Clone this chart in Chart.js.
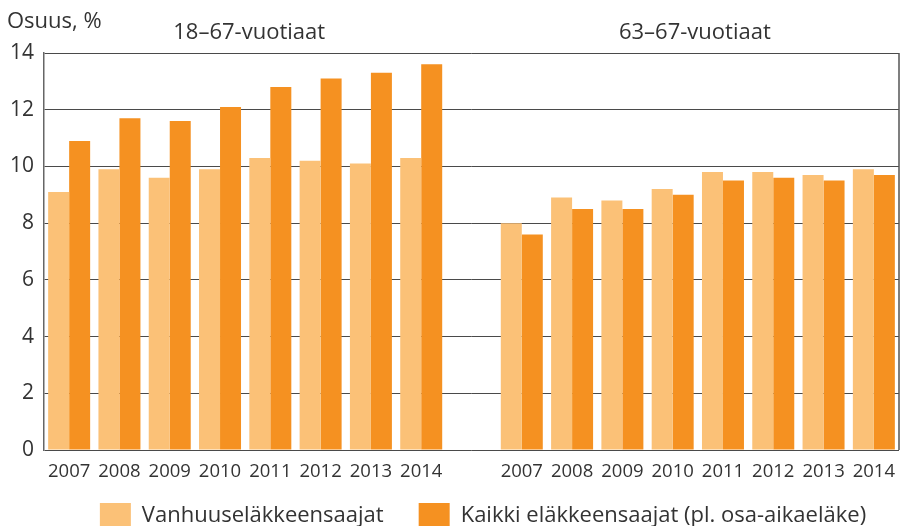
<!DOCTYPE html>
<html>
<head>
<meta charset="utf-8">
<script src="https://cdn.jsdelivr.net/npm/chart.js@4/dist/chart.umd.min.js"></script>
<style>
  html, body { margin: 0; padding: 0; background: #fff; overflow: hidden; }
  #wrap { width: 900px; height: 526px; }
</style>
</head>
<body>
<div id="wrap"><canvas id="myChart" width="900" height="526"></canvas></div>
<script>
// --- Data ---
const years = ['2007', '2008', '2009', '2010', '2011', '2012', '2013', '2014'];
const groupTitles = ['18–67-vuotiaat', '63–67-vuotiaat'];
const seriesNames = ['Vanhuuseläkkeensaajat', 'Kaikki eläkkeensaajat (pl. osa-aikaeläke)'];

// 18–67-vuotiaat
const oldAge1867 = [9.1, 9.9, 9.6, 9.9, 10.3, 10.2, 10.1, 10.3];
const allPens1867 = [10.9, 11.7, 11.6, 12.1, 12.8, 13.1, 13.3, 13.6];
// 63–67-vuotiaat
const oldAge6367 = [8.0, 8.9, 8.8, 9.2, 9.8, 9.8, 9.7, 9.9];
const allPens6367 = [7.6, 8.5, 8.5, 9.0, 9.5, 9.6, 9.5, 9.7];

const yMin = 0, yMax = 14, yStep = 2;

const lightColor = '#fbc177';
const darkColor = '#f59121';
const textColor = '#333333';
const fontFamily = "'Open Sans', sans-serif";

// one empty slot between the two groups
const labels = [...years, '', ...years];
const lightData = [...oldAge1867, null, ...oldAge6367];
const darkData = [...allPens1867, null, ...allPens6367];

// Titles above the groups + the axis unit text
const titlesPlugin = {
    id: 'groupTitles',
    afterDraw(chart) {
        const ctx = chart.ctx;
        const x = chart.scales.x;
        const area = chart.chartArea;
        ctx.save();
        ctx.fillStyle = textColor;
        ctx.font = `22px ${fontFamily}`;
        ctx.textBaseline = 'alphabetic';
        ctx.textAlign = 'left';
        ctx.fillText('Osuus, %', 7, 28);

        ctx.textAlign = 'center';
        const n = years.length;
        const c1 = (x.getPixelForValue(0) + x.getPixelForValue(n - 1)) / 2;
        const c2 = (x.getPixelForValue(n + 1) + x.getPixelForValue(2 * n)) / 2;
        ctx.fillText(groupTitles[0], c1 + 4, 39);
        ctx.fillText(groupTitles[1], c2 - 3, 39);

        // right frame line
        ctx.strokeStyle = '#555';
        ctx.lineWidth = 1.5;
        ctx.beginPath();
        ctx.moveTo(area.right, area.top);
        ctx.lineTo(area.right, area.bottom);
        ctx.stroke();
        ctx.restore();
    }
};

// Legend at the bottom (runs off the lower edge like the original)
const legendPlugin = {
    id: 'bottomLegend',
    afterDraw(chart) {
        const ctx = chart.ctx;
        const ds = chart.data.datasets;
        const boxW = 31, boxH = 30, boxGap = 11, itemGap = 35;
        ctx.save();
        ctx.font = `22px ${fontFamily}`;
        const widths = ds.map(d => ctx.measureText(d.label).width);
        let total = 0;
        widths.forEach((w, i) => { total += boxW + boxGap + w + (i < widths.length - 1 ? itemGap : 0); });
        let xPos = 483 - total / 2;
        const top = 503;
        ds.forEach((d, i) => {
            ctx.fillStyle = d.backgroundColor;
            ctx.fillRect(xPos, top, boxW, boxH);
            xPos += boxW + boxGap;
            ctx.fillStyle = textColor;
            ctx.textBaseline = 'alphabetic';
            ctx.textAlign = 'left';
            ctx.fillText(d.label, xPos, 522);
            xPos += widths[i] + itemGap;
        });
        ctx.restore();
    }
};

const ctx = document.getElementById('myChart').getContext('2d');
new Chart(ctx, {
    type: 'bar',
    data: {
        labels: labels,
        datasets: [
            { label: seriesNames[0], data: lightData, backgroundColor: lightColor },
            { label: seriesNames[1], data: darkData, backgroundColor: darkColor }
        ]
    },
    options: {
        responsive: false,
        animation: false,
        layout: { padding: { top: 53, left: 8, right: 1, bottom: 46 } },
        datasets: { bar: { categoryPercentage: 0.835, barPercentage: 1.0 } },
        plugins: {
            legend: { display: false },
            tooltip: { enabled: false }
        },
        scales: {
            x: {
                grid: { display: false },
                border: { display: false },
                ticks: {
                    color: textColor,
                    font: { family: fontFamily, size: 18.5 },
                    padding: 3,
                    maxRotation: 0,
                    autoSkip: false
                },
                afterFit: s => { s.height = 30; }
            },
            y: {
                min: yMin,
                max: yMax,
                grid: { color: '#4a4a4a', lineWidth: 1, drawTicks: false },
                border: { display: true, color: '#666', width: 1.5 },
                ticks: {
                    stepSize: yStep,
                    color: textColor,
                    font: { family: fontFamily, size: 21 },
                    padding: 10
                },
                afterFit: s => { s.width = 36; }
            }
        }
    },
    plugins: [titlesPlugin, legendPlugin]
});
</script>
</body>
</html>
